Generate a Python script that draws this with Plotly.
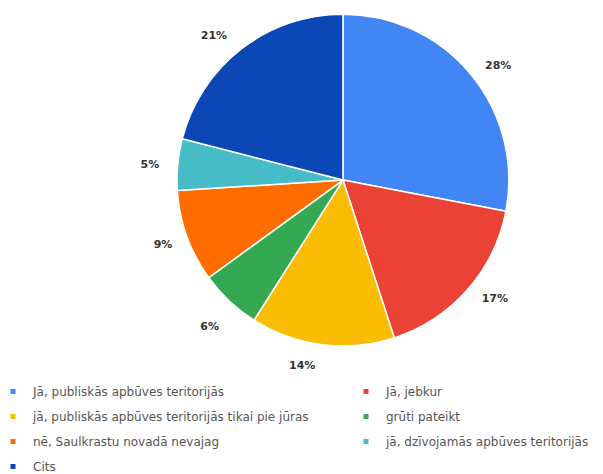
import plotly.graph_objects as go

labels = [
    "Jā, publiskās apbūves teritorijās",
    "Jā, jebkur",
    "jā, publiskās apbūves teritorijās tikai pie jūras",
    "grūti pateikt",
    "nē, Saulkrastu novadā nevajag",
    "jā, dzīvojamās apbūves teritorijās",
    "Cits",
]
values = [28, 17, 14, 6, 9, 5, 21]
colors = ["#4285F4", "#EA4335", "#FBBC04", "#34A853", "#FF6D01", "#46BDC6", "#0B47B5"]

# label padding (style only): blank lines / non-breaking spaces around each percentage
NB = "\u00a0"
P = "%{percent:.0%}"
label_templates = [
    NB + "<br>" + NB + P + "<br>" + NB,
    NB + "<br>" + NB + P + "<br>" + NB,
    NB + "<br>" + P,
    NB + "<br>" + NB + "<br>" + P,
    NB + "<br>" + P + NB * 2,
    P + NB * 4,
    NB + "<br>" + P + NB + "<br>" + NB,
]

fig = go.Figure()
fig.add_trace(go.Pie(
    labels=labels,
    values=values,
    sort=False,
    direction="clockwise",
    rotation=0,
    marker=dict(colors=colors, line=dict(color="white", width=1.5)),
    texttemplate=label_templates,
    textposition="outside",
    textfont=dict(family="DejaVu Sans", size=11, color="#333333", weight="bold"),
    domain=dict(x=[0.255, 0.856], y=[0.287, 0.987]),
    hoverinfo="label+percent",
    showlegend=False,
))

# legend entries (two columns, like the reference)
for i, (name, col) in enumerate(zip(labels, colors)):
    fig.add_trace(go.Scatter(
        x=[None], y=[None],
        mode="markers",
        marker=dict(symbol="square", size=5, color=col),
        name=name,
        legendgroup="g%d" % i,
        legend="legend" if i % 2 == 0 else "legend2",
        showlegend=True,
        hoverinfo="skip",
    ))

legend_font = dict(family="DejaVu Sans", size=12, color="#555555")
fig.update_layout(
    width=603,
    height=474,
    margin=dict(l=0, r=0, t=0, b=0, autoexpand=False),
    paper_bgcolor="white",
    plot_bgcolor="white",
    xaxis=dict(visible=False),
    yaxis=dict(visible=False),
    showlegend=True,
    legend=dict(
        orientation="v", x=0.0, y=0.2215, xanchor="left", yanchor="top",
        font=legend_font, tracegroupgap=6, indentation=-15, itemwidth=30,
        bgcolor="rgba(0,0,0,0)",
    ),
    legend2=dict(
        orientation="v", x=0.5854, y=0.2215, xanchor="left", yanchor="top",
        font=legend_font, tracegroupgap=6, indentation=-15, itemwidth=30,
        bgcolor="rgba(0,0,0,0)",
    ),
)

fig.write_html("out.html")
